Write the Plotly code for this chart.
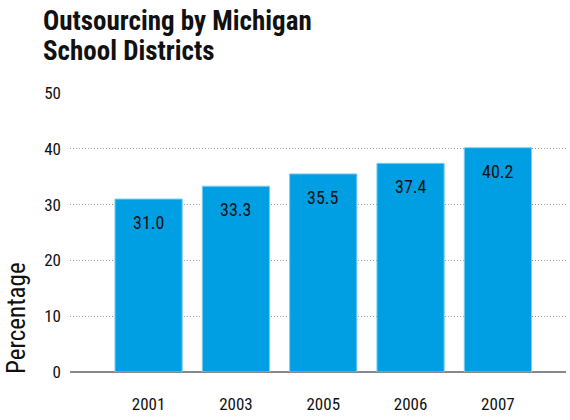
import plotly.graph_objects as go

years = ["2001", "2003", "2005", "2006", "2007"]
pct = [31.0, 33.3, 35.5, 37.4, 40.2]
yticks = [0, 10, 20, 30, 40, 50]
title_lines = ["Outsourcing by Michigan", "School Districts"]

FONT = "Roboto Condensed, Liberation Sans Narrow, Roboto, sans-serif"
BLUE = "#009FE3"

fig = go.Figure()
fig.add_trace(go.Bar(
    x=years,
    y=pct,
    marker=dict(color=BLUE, line=dict(color="#7FCDF1", width=1)),
    hoverinfo="skip",
))

# value labels near top of each bar (category index keeps "2001" from being read as a number)
for i, v in enumerate(pct):
    fig.add_annotation(
        x=i, y=v, text=f"{v:.1f}", showarrow=False,
        yanchor="top", yshift=-11,
        font=dict(family=FONT, size=18, color="#111111"),
    )

fig.add_annotation(
    xref="paper", yref="y", x=0, y=0, xshift=-54,
    text="Percentage", textangle=-90, showarrow=False,
    xanchor="center", yanchor="bottom", yshift=-4,
    font=dict(family=FONT, size=25, color="#111111"),
)

# two-line title, one annotation per line for tighter leading
for line, shift in zip(title_lines, [54, 24]):
    fig.add_annotation(
        xref="paper", yref="paper", x=0, y=1, xshift=-29, yshift=shift,
        text=f"<b>{line}</b>",
        showarrow=False, xanchor="left", yanchor="bottom",
        font=dict(family=FONT, size=27, color="#111111"),
    )

fig.update_layout(
    width=570, height=420,
    margin=dict(l=70, r=4, t=93, b=48),
    paper_bgcolor="white", plot_bgcolor="white",
    bargap=0.23,
    showlegend=False,
    font=dict(family=FONT, size=17, color="#111111"),
)

fig.update_xaxes(
    type="category", range=[-0.9, 4.78],
    showgrid=False, showline=False, zeroline=False,
    ticks="", ticklabelstandoff=20,
    tickfont=dict(family=FONT, size=17),
)
fig.update_yaxes(
    range=[0, 50], tickvals=yticks,
    showgrid=True, gridcolor="#999999", griddash="1px,2px", gridwidth=1,
    zeroline=True, zerolinecolor="#888888", zerolinewidth=1.5,
    showline=False, ticks="", ticklabelstandoff=8,
    tickfont=dict(family=FONT, size=17),
)

# drop the browser's default body margin so the figure sits at the corner
fig.write_html(
    "out.html",
    config={"displayModeBar": False},
    post_script="document.body.style.margin='0';",
)
